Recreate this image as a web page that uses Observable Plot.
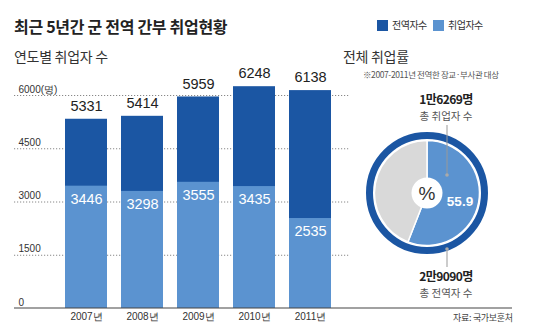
<!DOCTYPE html>
<html><head><meta charset="utf-8">
<script src="https://cdn.jsdelivr.net/npm/d3@7"></script>
<script src="https://cdn.jsdelivr.net/npm/@observablehq/plot@0.6"></script>
<style>
body{margin:0;background:#fff;}
#c{position:relative;width:550px;height:329px;overflow:hidden;font-family:"Noto Sans CJK KR","Noto Sans",sans-serif;color:#222;background:#fff;}
.t{position:absolute;white-space:nowrap;line-height:1;}
#c svg{position:absolute;left:0;top:0;}
.sq{position:absolute;width:11px;height:11px;}
.c{transform:translateX(-50%);text-align:center;}
</style></head><body>
<div id="c">
  <div class="t" style="left:14px;top:18px;font-size:16px;font-weight:700;letter-spacing:-0.3px;color:#222;">최근 5년간 군 전역 간부 취업현황</div>
  <div class="sq" style="left:377px;top:20px;background:#1b56a3;"></div>
  <div class="t" style="left:392px;top:20px;font-size:10px;color:#333;letter-spacing:-0.5px;">전역자수</div>
  <div class="sq" style="left:433px;top:20px;background:#5b93d0;"></div>
  <div class="t" style="left:448px;top:20px;font-size:10px;color:#333;letter-spacing:-0.5px;">취업자수</div>
  <div class="t" style="left:14px;top:49px;font-size:14px;color:#333;letter-spacing:-0.3px;">연도별 취업자 수</div>
  <div class="t" style="left:343px;top:49px;font-size:14px;color:#333;letter-spacing:-0.3px;">전체 취업률</div>
  <div class="t" style="left:363px;top:70px;font-size:8.5px;color:#555;letter-spacing:-0.4px;">※2007-2011년 전역한 장교·부사관 대상</div>
  <div class="t c" style="left:446px;top:93px;font-size:12px;font-weight:700;color:#222;letter-spacing:-0.6px;">1만6269명</div>
  <div class="t c" style="left:446px;top:111px;font-size:10.5px;color:#555;">총 취업자 수</div>
  <div class="t c" style="left:446px;top:270px;font-size:12px;font-weight:700;color:#222;letter-spacing:-0.6px;">2만9090명</div>
  <div class="t c" style="left:446px;top:288px;font-size:10.5px;color:#555;">총 전역자 수</div>
  <div class="t" style="left:453px;top:313px;font-size:9px;color:#444;letter-spacing:-0.3px;">자료: 국가보훈처</div>
</div>
<script>
const years = ["2007년", "2008년", "2009년", "2010년", "2011년"];
const discharged = [5331, 5414, 5959, 6248, 6138];
const employed = [3446, 3298, 3555, 3435, 2535];
const yTicks = [0, 1500, 3000, 4500, 6000];
const yTickLabels = ["0", "1500", "3000", "4500", "6000(명)"];
const totalEmployed = 16269;
const totalDischarged = 29090;
const employmentRate = "55.9";

const dark = "#1b56a3", light = "#5b93d0", grayFill = "#d9d9d9";
const numFont = "'Liberation Sans Narrow','Liberation Sans',Roboto,sans-serif";

const data = years.map((y, i) => ({year: y, discharged: discharged[i], employed: employed[i]}));
const pieValues = [totalEmployed, totalDischarged - totalEmployed];
const pieColors = [light, grayFill];

function extras(...args) {
  const scales = args.find(a => a && typeof a.y === "function") || args[1];
  const g = d3.create("svg:g");
  const y0 = scales.y(0);
  g.append("line").attr("x1", 14).attr("x2", 512).attr("y1", y0).attr("y2", y0)
    .attr("stroke", "#444").attr("stroke-width", 1.2);
  const cx = 427, cy = 193;
  const gp = g.append("g").attr("transform", `translate(${cx},${cy})`);
  gp.append("circle").attr("r", 57.5).attr("fill", "none").attr("stroke", dark).attr("stroke-width", 7);
  const arcs = d3.pie().sort(null)(pieValues);
  const arc = d3.arc().innerRadius(0).outerRadius(52.5);
  gp.selectAll("path.s").data(arcs).join("path").attr("class", "s")
    .attr("d", arc).attr("fill", (d, i) => pieColors[i]).attr("stroke", "#fff").attr("stroke-width", 1.5);
  gp.append("circle").attr("r", 15.5).attr("fill", "#fff");
  gp.append("text").attr("text-anchor", "middle").attr("dy", "0.36em")
    .attr("font-family", "'Liberation Sans',sans-serif").attr("font-size", 19).attr("fill", "#333").text("%");
  gp.append("text").attr("x", 33).attr("y", 8).attr("text-anchor", "middle").attr("dy", "0.36em")
    .attr("font-family", "'Liberation Sans',sans-serif").attr("font-weight", 700).attr("font-size", 13.5)
    .attr("fill", "#fff").text(employmentRate);
  g.append("line").attr("x1", 447).attr("x2", 447).attr("y1", 125).attr("y2", 175).attr("stroke", "#999").attr("stroke-width", 1);
  g.append("circle").attr("cx", 447).attr("cy", 175).attr("r", 1.8).attr("fill", "#aaa");
  g.append("line").attr("x1", 447).attr("x2", 447).attr("y1", 249).attr("y2", 267).attr("stroke", "#999").attr("stroke-width", 1);
  g.append("circle").attr("cx", 447).attr("cy", 249).attr("r", 1.8).attr("fill", "#aaa");
  return g.node();
}

const chart = Plot.plot({
  width: 550, height: 329,
  marginLeft: 14, marginRight: 200, marginTop: 95, marginBottom: 21,
  style: {background: "transparent", overflow: "visible"},
  x: {domain: years, range: [49, 346.7], padding: 0.248, axis: null},
  y: {domain: [0, 6000], axis: null},
  marks: [
    Plot.ruleY(yTicks.filter(t => t > 0), {stroke: "#888", strokeDasharray: "1.2,1.8", strokeWidth: 1}),
    Plot.text(yTicks, {y: d => d, text: (d, i) => yTickLabels[i], frameAnchor: "left", textAnchor: "start",
      dx: 4, dy: -6, fontSize: 10, fill: "#333", fontFamily: numFont}),
    Plot.barY(data, {x: "year", y: "discharged", fill: dark}),
    Plot.barY(data, {x: "year", y: "employed", fill: light}),
    Plot.text(data, {x: "year", y: "discharged", text: d => String(d.discharged), dy: -13,
      fontSize: 14.5, fill: "#222", fontFamily: numFont}),
    Plot.text(data, {x: "year", y: "employed", text: d => String(d.employed), dy: 13,
      fontSize: 14.5, fill: "#fff", fontFamily: numFont}),
    Plot.text(data, {x: "year", text: "year", frameAnchor: "bottom", dy: 11,
      fontSize: 10, fill: "#333", fontFamily: numFont}),
    extras
  ]
});
document.getElementById("c").prepend(chart);
</script>
</body></html>
